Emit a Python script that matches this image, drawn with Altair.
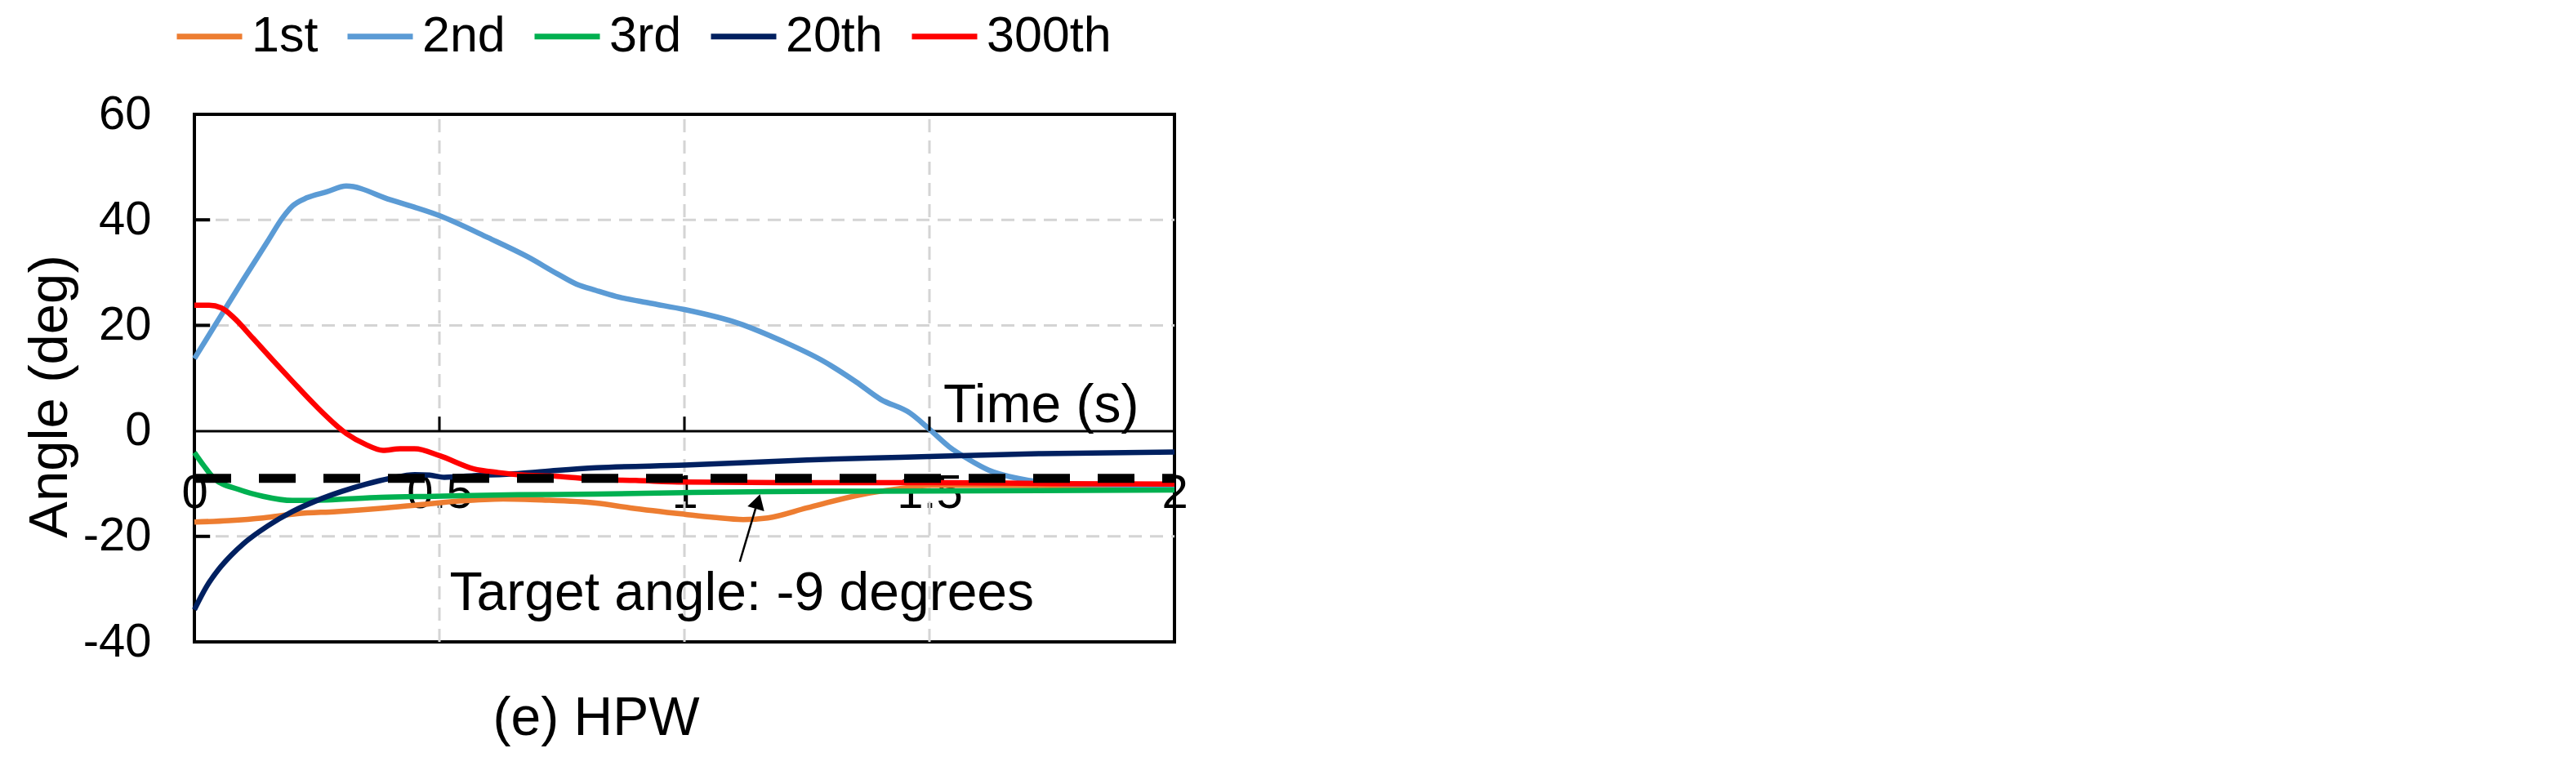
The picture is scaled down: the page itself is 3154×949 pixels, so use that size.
import altair as alt
import pandas as pd

# ---------------- data ----------------
series_names = ["1st", "2nd", "3rd", "20th", "300th"]
series_colors = ["#ED7D31", "#5B9BD5", "#00B050", "#002060", "#FF0000"]

t_1st = [0, 0.07, 0.14, 0.21, 0.29, 0.38, 0.46, 0.54, 0.63, 0.71, 0.82, 0.89, 1.0, 1.06,
         1.12, 1.17, 1.25, 1.36, 1.45, 1.5, 1.6, 1.75, 2.0]
v_1st = [-17.3, -17.0, -16.5, -15.7, -15.3, -14.7, -14.0, -13.3, -12.9, -13.1, -13.7, -14.6,
         -15.8, -16.4, -16.8, -16.5, -14.6, -12.1, -10.8, -10.3, -10.3, -10.4, -10.6]

t_2nd = [0, 0.05, 0.10, 0.15, 0.18, 0.20, 0.23, 0.27, 0.31, 0.40, 0.50, 0.60, 0.68, 0.74,
         0.78, 0.82, 0.86, 0.93, 1.0, 1.11, 1.20, 1.28, 1.35, 1.40, 1.46, 1.50, 1.54, 1.58,
         1.62, 1.68, 1.77, 1.88, 2.0]
v_2nd = [13.7, 21.2, 28.7, 36.0, 40.4, 42.6, 44.2, 45.3, 46.4, 43.8, 40.8, 36.6, 33.0, 29.8,
         27.8, 26.6, 25.5, 24.2, 23.0, 20.4, 17.0, 13.4, 9.3, 6.0, 3.4, 0.3, -3.0, -5.4,
         -7.4, -9.0, -10.0, -10.2, -10.3]

t_3rd = [0, 0.02, 0.04, 0.09, 0.14, 0.20, 0.27, 0.38, 0.49, 0.66, 0.82, 1.0, 1.17, 1.5, 2.0]
v_3rd = [-4.1, -6.7, -9.0, -11.1, -12.4, -13.2, -13.1, -12.6, -12.4, -12.1, -12.0, -11.7,
         -11.5, -11.4, -11.2]

t_20th = [0, 0.025, 0.05, 0.075, 0.10, 0.15, 0.20, 0.25, 0.30, 0.35, 0.40, 0.45, 0.48, 0.51,
          0.57, 0.66, 0.74, 0.82, 1.0, 1.25, 1.44, 1.73, 2.0]
v_20th = [-33.9, -29.5, -26.2, -23.6, -21.4, -18.0, -15.3, -13.2, -11.5, -10.1, -9.0, -8.3,
          -8.4, -8.8, -8.5, -8.1, -7.5, -7.0, -6.5, -5.5, -5.0, -4.3, -4.0]

t_300th = [0, 0.03, 0.055, 0.08, 0.12, 0.16, 0.20, 0.245, 0.31, 0.35, 0.385, 0.42, 0.45,
           0.50, 0.57, 0.62, 0.66, 0.74, 0.82, 0.90, 1.0, 1.2, 1.5, 1.75, 2.0]
v_300th = [23.8, 23.8, 23.3, 21.5, 17.5, 13.4, 9.4, 5.0, -0.5, -2.6, -3.7, -3.4, -3.4,
           -4.7, -7.2, -7.9, -8.3, -8.6, -9.2, -9.4, -9.7, -9.8, -9.8, -10.0, -10.1]

target_angle = -9
x_ticks = [0, 0.5, 1, 1.5, 2]
y_ticks = [-40, -20, 0, 20, 40, 60]

FONT = "Liberation Sans"

rows = []
for name, ts, vs in zip(series_names,
                        [t_1st, t_2nd, t_3rd, t_20th, t_300th],
                        [v_1st, v_2nd, v_3rd, v_20th, v_300th]):
    for t, v in zip(ts, vs):
        rows.append({"series": name, "t": t, "v": v})
lines_df = pd.DataFrame(rows)

xs = alt.Scale(domain=[0, 2], nice=False, zero=False)
ys = alt.Scale(domain=[-40, 60], nice=False, zero=False)

x_axis = alt.Axis(values=x_ticks, labelExpr="'' + datum.value", labelFontSize=58,
                  labelFont=FONT, labelColor="black", labelPadding=48, ticks=False,
                  domain=True, domainColor="black", domainWidth=3, grid=False,
                  offset=-258.4, labelFlush=False, labelOverlap=False,
                  title="Time (s)", titleFont=FONT, titleFontSize=66,
                  titleFontWeight="normal", titleColor="black", titleX=1156, titleY=-11.5,
                  titleAlign="right", titleBaseline="alphabetic")
y_axis = alt.Axis(values=y_ticks, labelExpr="'' + datum.value", labelFontSize=58,
                  labelFont=FONT, labelColor="black", labelPadding=53, ticks=False,
                  domain=False, grid=False,
                  title="Angle (deg)", titleFont=FONT, titleFontSize=67,
                  titleFontWeight="normal", titleColor="black", titleX=-157, titleY=345,
                  titleAngle=270, titleAlign="center", titleBaseline="alphabetic")

legend = alt.Legend(orient="none", legendX=-25, legendY=-139, direction="horizontal",
                    title=None, symbolType="stroke", symbolSize=6400, symbolStrokeWidth=7,
                    labelFontSize=61, labelFont=FONT, labelColor="black", labelOffset=8,
                    columnPadding=21, padding=0)

# grid lines
vgrid_df = pd.DataFrame({"t": [0.5, 1, 1.5], "v": [-40] * 3, "v2": [60] * 3})
hgrid_df = pd.DataFrame({"t": [0] * 3, "t2": [2] * 3, "v": [-20, 20, 40]})

vgrid = alt.Chart(vgrid_df).mark_rule(color="#d4d4d4", strokeWidth=3, strokeDash=[16, 10]).encode(
    x=alt.X("t:Q", scale=xs), y=alt.Y("v:Q", scale=ys), y2="v2:Q")
hgrid = alt.Chart(hgrid_df).mark_rule(color="#d4d4d4", strokeWidth=3, strokeDash=[16, 10]).encode(
    x=alt.X("t:Q", scale=xs), x2="t2:Q", y=alt.Y("v:Q", scale=ys))

lines = alt.Chart(lines_df).mark_line(strokeWidth=6.5, interpolate="monotone").encode(
    x=alt.X("t:Q", scale=xs, axis=x_axis),
    y=alt.Y("v:Q", scale=ys, axis=y_axis),
    color=alt.Color("series:N", scale=alt.Scale(domain=series_names, range=series_colors),
                    legend=legend),
)

# inward tick marks
ytick_df = pd.DataFrame({"t": [0] * 3, "t2": [0.032] * 3, "v": [-20, 20, 40]})
xtick_df = pd.DataFrame({"t": [0.5, 1, 1.5], "v": [0] * 3, "v2": [2.7] * 3})
yticks = alt.Chart(ytick_df).mark_rule(color="black", strokeWidth=4).encode(
    x=alt.X("t:Q", scale=xs), x2="t2:Q", y=alt.Y("v:Q", scale=ys))
xticks = alt.Chart(xtick_df).mark_rule(color="black", strokeWidth=3).encode(
    x=alt.X("t:Q", scale=xs), y=alt.Y("v:Q", scale=ys), y2="v2:Q")

# target dashed line
target_df = pd.DataFrame({"t": [0], "t2": [2], "v": [target_angle]})
target = alt.Chart(target_df).mark_rule(color="black", strokeWidth=11, strokeDash=[45, 34]).encode(
    x=alt.X("t:Q", scale=xs), x2="t2:Q", y=alt.Y("v:Q", scale=ys))

# annotation
arrow_df = pd.DataFrame({"t": [1.113], "v": [-24.8], "t2": [1.149], "v2": [-13.5]})
arrow_line = alt.Chart(arrow_df).mark_rule(color="black", strokeWidth=2.5).encode(
    x=alt.X("t:Q", scale=xs), y=alt.Y("v:Q", scale=ys), x2="t2:Q", y2="v2:Q")
head_df = pd.DataFrame({"t": [1.150], "v": [-13.4]})
arrow_head = alt.Chart(head_df).mark_point(shape="triangle-up", size=450, angle=16,
                                           filled=True, color="black", opacity=1).encode(
    x=alt.X("t:Q", scale=xs), y=alt.Y("v:Q", scale=ys))

text_df = pd.DataFrame({"t": [0.521], "v": [-33.9], "label": ["Target angle: -9 degrees"]})
target_text = alt.Chart(text_df).mark_text(align="left", baseline="alphabetic", fontSize=66,
                                           font=FONT, color="black").encode(
    x=alt.X("t:Q", scale=xs), y=alt.Y("v:Q", scale=ys), text="label:N")

cap_df = pd.DataFrame({"t": [0.82], "v": [-57.7], "label": ["(e) HPW"]})
caption = alt.Chart(cap_df).mark_text(align="center", baseline="alphabetic", fontSize=66,
                                      font=FONT, color="black").encode(
    x=alt.X("t:Q", scale=xs), y=alt.Y("v:Q", scale=ys), text="label:N")

chart = alt.layer(vgrid, hgrid, lines, yticks, xticks, target, arrow_line, arrow_head,
                  target_text, caption).properties(
    width=1200, height=646,
    padding={"left": 230, "top": 132, "right": 100, "bottom": 140},
    autosize="none",
    background="white",
).configure_view(stroke="black", strokeWidth=4)

chart.save("out.html", embed_options={"renderer": "svg", "actions": False})
